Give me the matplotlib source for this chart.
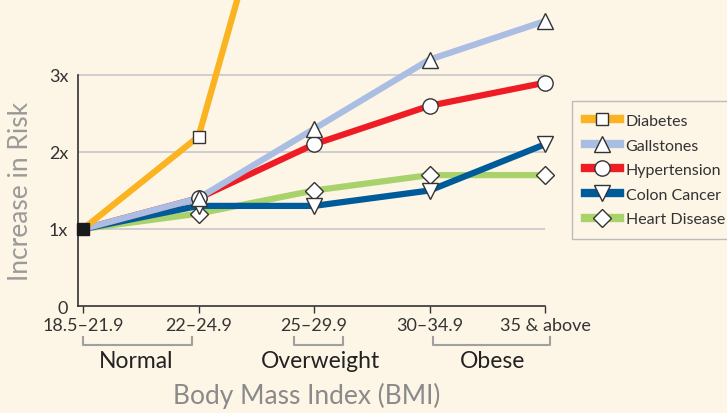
import numpy as np
import matplotlib.pyplot as plt

# BMI categories and relative risk
categories = ['18.5–21.9', '22–24.9', '25–29.9', '30–34.9', '35 & above']
diabetes = [1.0, 2.2, 7.5]
gallstones = [1.0, 1.4, 2.3, 3.2, 3.7]
hypertension = [1.0, 1.4, 2.1, 2.6, 2.9]
colon_cancer = [1.0, 1.3, 1.3, 1.5, 2.1]
heart_disease = [1.0, 1.2, 1.5, 1.7, 1.7]
ytick_vals = [0, 1, 2, 3]
ytick_labels = ['0', '1x', '2x', '3x']

bg = '#fdf5e6'
plt.rcParams['font.family'] = ['Lato', 'DejaVu Sans']

fig = plt.figure(figsize=(7.27, 4.14), dpi=100, facecolor=bg)
W, H = 727, 414
ax = fig.add_axes([78 / W, (H - 307) / H, (545 - 78) / W, 307 / H])
ax.set_facecolor('none')
x = np.arange(len(categories))

# grid lines
for v in ytick_vals[1:]:
    ax.plot([-0.0433, 4], [v, v], color='#c8c8c8', lw=1.2, zorder=1)

series = [
    ('Heart Disease', heart_disease, '#a9d26c', 'D', 9),
    ('Colon Cancer', colon_cancer, '#005b9a', 'v', 11),
    ('Hypertension', hypertension, '#ee1c25', 'o', 11),
    ('Gallstones', gallstones, '#aabde3', '^', 11),
    ('Diabetes', diabetes, '#fbb321', 's', 8.5),
]
handles = {}
for i, (name, vals, col, mk, ms) in enumerate(series):
    xs = x[:len(vals)]
    ax.plot(xs, vals, color=col, lw=4.5, zorder=2 + i, solid_capstyle='butt')
    ax.plot(xs[1:], vals[1:], ls='none', marker=mk, ms=ms, mfc='white',
            mec='#333333', mew=1.0, zorder=10, clip_on=False)
    handles[name] = plt.Line2D([], [], color=col, lw=6, marker=mk, ms=ms,
                               mfc='white', mec='#333333', mew=1.0)

# common starting point
ax.plot([0], [1], marker='s', ms=8, color='#1a1a1a', zorder=11, clip_on=False)

ax.set_xlim(-0.0433, 4)
ax.set_ylim(0, 307 / 77)
ax.spines['top'].set_visible(False)
ax.spines['right'].set_visible(False)
ax.spines['left'].set_bounds(0, 3)
for s in ['left', 'bottom']:
    ax.spines[s].set_color('#333333')
    ax.spines[s].set_linewidth(1.2)

ax.set_xticks(x)
ax.set_xticklabels(categories, fontsize=13, color='#333333')
ax.tick_params(axis='x', length=5, width=1, color='#333333', pad=3)
ax.set_yticks(ytick_vals)
ax.set_yticklabels(ytick_labels, fontsize=13, color='#333333')
ax.tick_params(axis='y', length=0, pad=7)

ax.set_ylabel('Increase in Risk', fontsize=19, color='#9a9a9a')
ax.yaxis.set_label_coords((33 - 78) / 467, 1.5 / (307 / 77))

# group brackets under the x axis
brackets = [(83, 192, 'Normal', 136), (294, 343, 'Overweight', 320), (433, 550, 'Obese', 493)]
for x0, x1, label, xc in brackets:
    y0, y1 = 1 - 346 / H, 1 - 338 / H
    fig.add_artist(plt.Line2D([x0 / W, x0 / W, x1 / W, x1 / W], [y1, y0, y0, y1],
                              color='#a0a0a0', lw=1.5, transform=fig.transFigure))
    fig.text(xc / W, 1 - 362 / H, label, ha='center', va='center',
             fontsize=16.5, color='#222222')

fig.text(307 / W, 1 - 396 / H, 'Body Mass Index (BMI)', ha='center', va='center',
         fontsize=19, color='#8a8a8a')

order = ['Diabetes', 'Gallstones', 'Hypertension', 'Colon Cancer', 'Heart Disease']
leg = fig.legend([handles[n] for n in order], order, loc='upper left',
                 bbox_to_anchor=(572 / W, 1 - 102 / H), fontsize=11.5,
                 handlelength=2.2, handletextpad=0.35, labelspacing=0.65,
                 borderpad=0.8, borderaxespad=0, fancybox=False,
                 facecolor=bg, edgecolor='#bbbbbb', framealpha=1)
for t in leg.get_texts():
    t.set_color('#333333')

fig.savefig('out.png', dpi=100, facecolor=bg)
